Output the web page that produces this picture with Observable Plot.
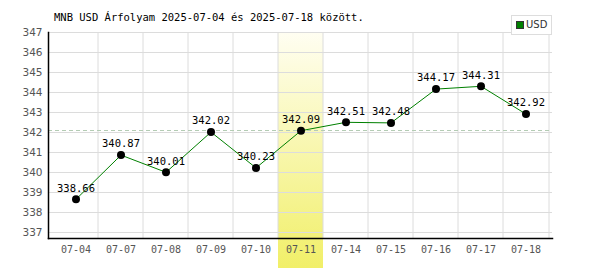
<!DOCTYPE html>
<html><head><meta charset="utf-8">
<script src="https://cdn.jsdelivr.net/npm/d3@7"></script>
<script src="https://cdn.jsdelivr.net/npm/@observablehq/plot@0.6"></script>
<style>
body{margin:0;background:#fff;}
#wrap{position:relative;width:600px;height:270px;font-family:"DejaVu Sans Mono",monospace;}
#title{position:absolute;left:54px;top:11px;font-size:10.5px;color:#000;white-space:pre;}
#legend{position:absolute;left:511px;top:15px;width:41px;height:20px;border:1px solid #ddd;background:#fff;box-sizing:border-box;font-size:10px;color:#333;font-family:"DejaVu Sans",sans-serif;}
#legend .sw{position:absolute;left:4px;top:5px;width:8px;height:8px;background:#008000;border:1px solid #333;box-sizing:border-box;}
#legend .lb{position:absolute;left:14px;top:3px;}
</style></head>
<body>
<div id="wrap">
<div id="chart"></div>
<div id="title">MNB USD Árfolyam 2025-07-04 és 2025-07-18 között.</div>
<div id="legend"><div class="sw"></div><div class="lb">USD</div></div>
</div>
<script>
const dates = ["07-04","07-07","07-08","07-09","07-10","07-11","07-14","07-15","07-16","07-17","07-18"];
const values = [338.66,340.87,340.01,342.02,340.23,342.09,342.51,342.48,344.17,344.31,342.92];
const yTicks = [337,338,339,340,341,342,343,344,345,346,347];
const highlightDate = "07-11";
const averageValue = 342.1;
const seriesName = "USD";

const data = dates.map((d,i)=>({date:d, value:values[i], label:values[i].toFixed(2)}));

const gradientDefs = () => {
  const ns = "http://www.w3.org/2000/svg";
  const defs = document.createElementNS(ns,"defs");
  defs.innerHTML = `<linearGradient id="hl" x1="0" y1="0" x2="0" y2="1">
    <stop offset="0" stop-color="#fffef2"/><stop offset="1" stop-color="#f1ef68"/></linearGradient>`;
  return defs;
};

const chart = Plot.plot({
  width: 600, height: 270,
  marginLeft: 48, marginRight: 48, marginTop: 32, marginBottom: 32,
  style: {fontFamily: "DejaVu Sans Mono, monospace", fontSize: "10px", background: "#fff"},
  x: {type: "band", domain: dates, padding: 0, label: null},
  y: {domain: [336.7, 347], label: null},
  marks: [
    gradientDefs,
    Plot.barY([highlightDate], {x: d => d, y1: 347, y2: 335.2, fill: "url(#hl)", clip: false}),
    Plot.gridY(yTicks, {stroke: "#dcdcdc", strokeOpacity: 1}),
    Plot.ruleX(dates.slice(1), {x: d => d, stroke: "#dcdcdc", dx: -23}),
    Plot.ruleX([dates[dates.length-1]], {x: d => d, stroke: "#dcdcdc", dx: 23}),
    Plot.ruleY([averageValue], {stroke: "#b4ccb4", strokeDasharray: "4,3"}),
    Plot.axisX({tickSize: 0, tickPadding: 7, fill: "#555", fontSize: 10}),
    Plot.axisY({ticks: yTicks, tickSize: 0, tickPadding: 6, fill: "#555", fontSize: 10.5, fontFamily: "DejaVu Sans, sans-serif", tickFormat: d3.format("d")}),
    Plot.frame({anchor: "left", stroke: "#000", strokeWidth: 1.5}),
    Plot.frame({anchor: "bottom", stroke: "#000", strokeWidth: 1.5}),
    Plot.line(data, {x: "date", y: "value", stroke: "#008000", strokeWidth: 1}),
    Plot.dot(data, {x: "date", y: "value", r: 4, fill: "#000"}),
    Plot.text(data, {x: "date", y: "value", text: "label", dy: -11, fill: "#000", fontSize: 10.5})
  ]
});
document.getElementById("chart").appendChild(chart);
</script>
</body></html>
